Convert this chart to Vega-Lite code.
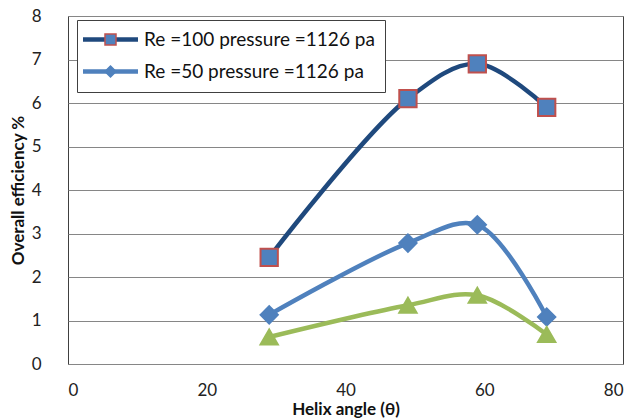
{
  "$schema": "https://vega.github.io/schema/vega-lite/v6.json",
  "autosize": "none",
  "padding": {"left": 68, "top": 16, "right": 11, "bottom": 55},
  "width": 555,
  "height": 348,
  "background": "white",
  "config": {
    "view": {"stroke": "#404040", "strokeWidth": 1},
    "font": "Lato"
  },
  "data": {
    "values": [
      {"angle": 29, "eff": 2.45, "series": "Re =100 pressure =1126 pa"},
      {"angle": 49, "eff": 6.1, "series": "Re =100 pressure =1126 pa"},
      {"angle": 59, "eff": 6.9, "series": "Re =100 pressure =1126 pa"},
      {"angle": 69, "eff": 5.9, "series": "Re =100 pressure =1126 pa"},
      {"angle": 29, "eff": 1.13, "series": "Re =50 pressure =1126 pa"},
      {"angle": 49, "eff": 2.78, "series": "Re =50 pressure =1126 pa"},
      {"angle": 59, "eff": 3.2, "series": "Re =50 pressure =1126 pa"},
      {"angle": 69, "eff": 1.08, "series": "Re =50 pressure =1126 pa"},
      {"angle": 29, "eff": 0.62, "series": "Series 3"},
      {"angle": 49, "eff": 1.35, "series": "Series 3"},
      {"angle": 59, "eff": 1.58, "series": "Series 3"},
      {"angle": 69, "eff": 0.68, "series": "Series 3"}
    ]
  },
  "encoding": {
    "x": {
      "field": "angle", "type": "quantitative",
      "scale": {"domain": [0, 80], "nice": false, "zero": false},
      "axis": {
        "values": [0, 20, 40, 60, 80], "grid": false, "ticks": false, "domain": false,
        "labelFont": "Lato", "labelFontSize": 17, "labelColor": "#222", "labelPadding": 18,
        "title": "Helix angle (θ)", "titleFont": "Lato", "titleFontSize": 17, "titleFontWeight": "bold",
        "titleColor": "#111", "titlePadding": 3
      }
    },
    "y": {
      "field": "eff", "type": "quantitative",
      "scale": {"domain": [0, 8], "nice": false},
      "axis": {
        "values": [0, 1, 2, 3, 4, 5, 6, 7, 8], "grid": true, "gridColor": "#868686", "gridWidth": 1,
        "ticks": false, "domain": false,
        "labelFont": "Lato", "labelFontSize": 17, "labelColor": "#222", "labelPadding": 27,
        "title": "Overall efficiency %", "titleFont": "Lato", "titleFontSize": 17, "titleFontWeight": "bold",
        "titleColor": "#111", "titlePadding": 4
      }
    }
  },
  "layer": [
    {
      "mark": {"type": "line", "interpolate": "catmull-rom", "strokeWidth": 4.5},
      "encoding": {
        "color": {
          "field": "series", "type": "nominal",
          "scale": {
            "domain": ["Series 3", "Re =100 pressure =1126 pa", "Re =50 pressure =1126 pa"],
            "range": ["#9BBB59", "#1F497D", "#4F81BD"]
          },
          "legend": {
            "values": ["Re =100 pressure =1126 pa", "Re =50 pressure =1126 pa"],
            "orient": "none", "legendX": 9, "legendY": 4, "title": null,
            "symbolType": "M-5,0H5", "symbolSize": 121, "symbolStrokeWidth": 4.5,
            "symbolOffset": 14, "labelOffset": 24, "labelLimit": 400,
            "labelFont": "Lato", "labelFontSize": 19, "labelColor": "#111",
            "strokeColor": "#404040", "fillColor": "white", "padding": 10, "rowPadding": 12
          }
        }
      }
    },
    {
      "mark": {"type": "point", "filled": true, "size": 300, "opacity": 1, "strokeWidth": 2},
      "encoding": {
        "shape": {
          "field": "series", "type": "nominal",
          "scale": {
            "domain": ["Re =100 pressure =1126 pa", "Re =50 pressure =1126 pa", "Series 3"],
            "range": ["square", "diamond", "triangle-up"]
          },
          "legend": {
            "values": ["Re =100 pressure =1126 pa", "Re =50 pressure =1126 pa"],
            "orient": "none", "legendX": 9, "legendY": 4, "title": null,
            "symbolSize": 121, "symbolOffset": 14, "labelOffset": 24, "labelLimit": 400,
            "labelFont": "Lato", "labelFontSize": 19, "labelColor": "transparent",
            "padding": 10, "rowPadding": 12
          }
        },
        "fill": {
          "field": "series", "type": "nominal",
          "scale": {
            "domain": ["Re =100 pressure =1126 pa", "Re =50 pressure =1126 pa", "Series 3"],
            "range": ["#4F81BD", "#4F81BD", "#9BBB59"]
          },
          "legend": {
            "values": ["Re =100 pressure =1126 pa", "Re =50 pressure =1126 pa"],
            "orient": "none", "legendX": 9, "legendY": 4, "title": null,
            "symbolSize": 121, "symbolOffset": 14, "labelOffset": 24, "labelLimit": 400,
            "labelFont": "Lato", "labelFontSize": 19, "labelColor": "transparent",
            "padding": 10, "rowPadding": 12
          }
        },
        "stroke": {
          "field": "series", "type": "nominal",
          "scale": {
            "domain": ["Re =100 pressure =1126 pa", "Re =50 pressure =1126 pa", "Series 3"],
            "range": ["#C0504D", "#4F81BD", "#9BBB59"]
          },
          "legend": {
            "values": ["Re =100 pressure =1126 pa", "Re =50 pressure =1126 pa"],
            "orient": "none", "legendX": 9, "legendY": 4, "title": null,
            "symbolSize": 121, "symbolOffset": 14, "labelOffset": 24, "labelLimit": 400,
            "labelFont": "Lato", "labelFontSize": 19, "labelColor": "transparent",
            "padding": 10, "rowPadding": 12
          }
        }
      }
    }
  ]
}
